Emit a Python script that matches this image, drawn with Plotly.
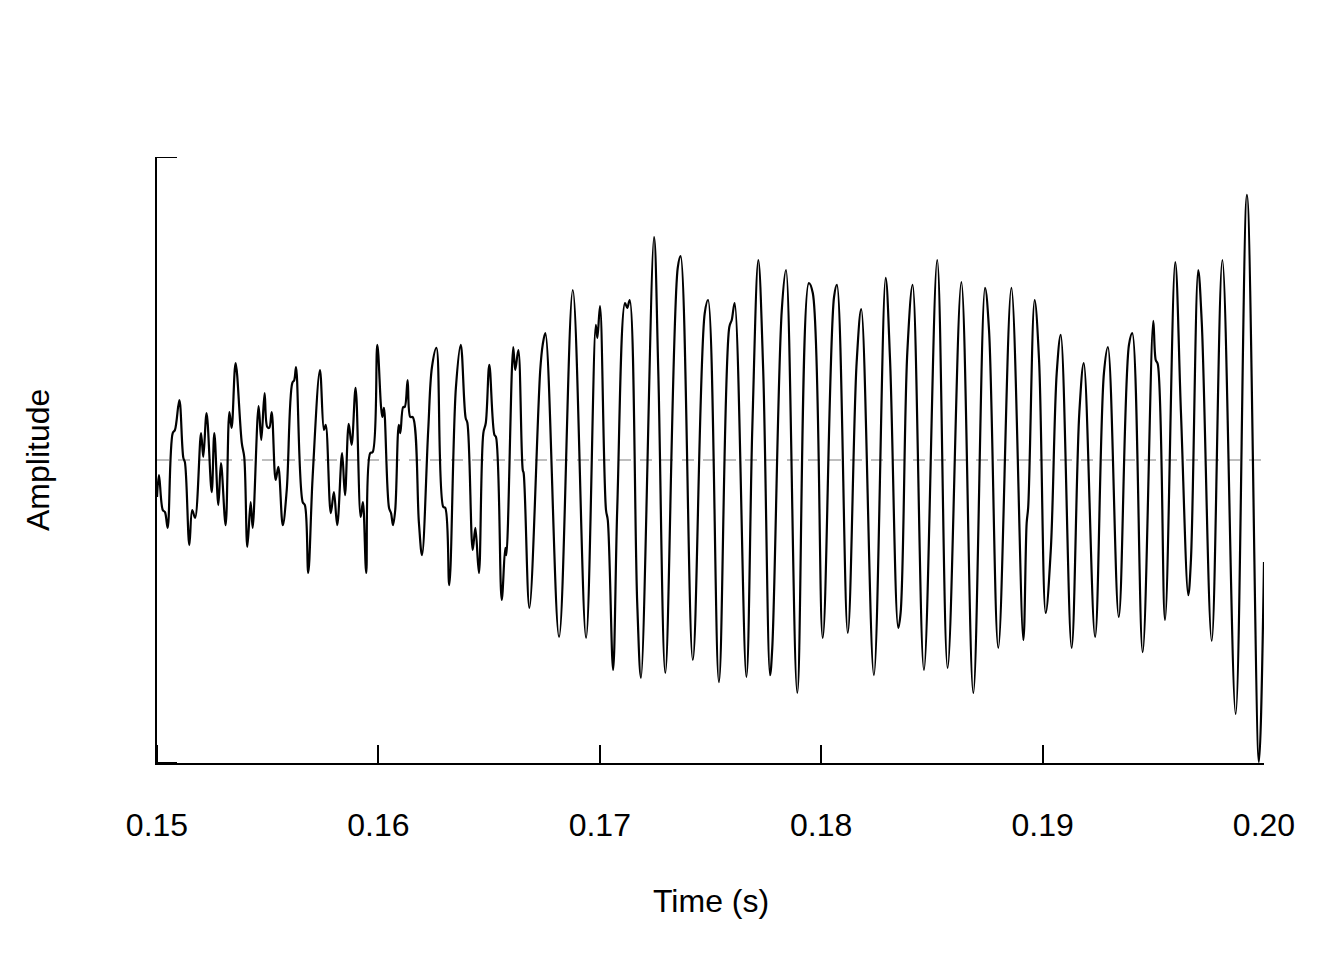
import plotly.graph_objects as go

# Time (s) of the traced extrema / shoulders of the waveform
time_s = [
    0.15000, 0.15009, 0.15026, 0.15036, 0.15048, 0.15071, 0.15081, 0.15101, 0.15119, 0.15126,
    0.15146, 0.15159, 0.15172, 0.15199, 0.15209, 0.15224, 0.15247, 0.15259, 0.15277, 0.15289,
    0.15310, 0.15327, 0.15337, 0.15355, 0.15383, 0.15394, 0.15408, 0.15423, 0.15432, 0.15459,
    0.15471, 0.15486, 0.15498, 0.15507, 0.15518, 0.15536, 0.15548, 0.15568, 0.15586, 0.15611,
    0.15620, 0.15628, 0.15658, 0.15668, 0.15683, 0.15703, 0.15736, 0.15754, 0.15762, 0.15785,
    0.15799, 0.15814, 0.15836, 0.15849, 0.15866, 0.15879, 0.15897, 0.15920, 0.15930, 0.15945,
    0.15963, 0.15974, 0.15995, 0.16012, 0.16018, 0.16025, 0.16048, 0.16057, 0.16066, 0.16076,
    0.16092, 0.16099, 0.16112, 0.16119, 0.16132, 0.16144, 0.16155, 0.16183, 0.16197, 0.16225,
    0.16242, 0.16262, 0.16293, 0.16302, 0.16320, 0.16350, 0.16372, 0.16394, 0.16402, 0.16426,
    0.16438, 0.16454, 0.16474, 0.16485, 0.16501, 0.16524, 0.16531, 0.16557, 0.16573, 0.16578,
    0.16609, 0.16618, 0.16632, 0.16652, 0.16656, 0.16682, 0.16731, 0.16742, 0.16754, 0.16816,
    0.16878, 0.16938, 0.16982, 0.16989, 0.17001, 0.17028, 0.17036, 0.17060, 0.17079, 0.17114,
    0.17124, 0.17135, 0.17169, 0.17186, 0.17245, 0.17264, 0.17296, 0.17352, 0.17365, 0.17420,
    0.17474, 0.17489, 0.17538, 0.17585, 0.17596, 0.17609, 0.17662, 0.17689, 0.17716, 0.17738,
    0.17769, 0.17779, 0.17822, 0.17841, 0.17892, 0.17944, 0.17962, 0.18007, 0.18058, 0.18071,
    0.18120, 0.18160, 0.18181, 0.18238, 0.18291, 0.18311, 0.18348, 0.18359, 0.18389, 0.18413,
    0.18464, 0.18524, 0.18571, 0.18633, 0.18687, 0.18740, 0.18758, 0.18800, 0.18859, 0.18913,
    0.18928, 0.18935, 0.18964, 0.18984, 0.19014, 0.19037, 0.19064, 0.19082, 0.19131, 0.19166,
    0.19186, 0.19237, 0.19277, 0.19295, 0.19344, 0.19390, 0.19405, 0.19452, 0.19500, 0.19511,
    0.19520, 0.19553, 0.19599, 0.19625, 0.19658, 0.19670, 0.19703, 0.19719, 0.19764, 0.19812,
    0.19872, 0.19923, 0.19977, 0.20000,
]

# Amplitude (normalised, axis spans -1 .. 1)
amplitude = [
    -0.122, -0.050, -0.165, -0.172, -0.224, 0.089, 0.099, 0.198, 0.007, -0.007,
    -0.281, -0.165, -0.191, 0.089, 0.010, 0.155, -0.106, 0.089, -0.149, -0.010,
    -0.215, 0.158, 0.106, 0.320, 0.056, 0.010, -0.287, -0.139, -0.224, 0.178,
    0.066, 0.221, 0.109, 0.106, 0.158, -0.066, -0.023, -0.215, -0.099, 0.254,
    0.264, 0.307, -0.139, -0.149, -0.373, -0.056, 0.297, 0.099, 0.116, -0.175,
    -0.106, -0.215, 0.023, -0.116, 0.119, 0.050, 0.238, -0.188, -0.139, -0.373,
    0.023, 0.026, 0.380, 0.175, 0.142, 0.172, -0.158, -0.175, -0.215, -0.165,
    0.116, 0.089, 0.175, 0.175, 0.264, 0.142, 0.142, -0.208, -0.314, 0.099,
    0.307, 0.370, -0.155, -0.158, -0.413, 0.238, 0.380, 0.139, 0.122, -0.297,
    -0.224, -0.373, 0.089, 0.122, 0.314, 0.083, 0.076, -0.462, -0.290, -0.314,
    0.373, 0.297, 0.363, -0.033, -0.043, -0.488, 0.297, 0.380, 0.419, -0.584,
    0.561, -0.587, 0.446, 0.403, 0.508, -0.165, -0.198, -0.693, -0.155, 0.518,
    0.502, 0.528, -0.472, -0.719, 0.736, 0.297, -0.703, 0.634, 0.673, -0.660,
    0.485, 0.528, -0.733, 0.439, 0.462, 0.518, -0.716, 0.109, 0.660, 0.297,
    -0.710, -0.620, 0.495, 0.627, -0.769, 0.584, 0.551, -0.587, 0.538, 0.578,
    -0.571, 0.320, 0.498, -0.710, 0.601, 0.330, -0.554, -0.502, 0.356, 0.578,
    -0.693, 0.660, -0.686, 0.587, -0.769, 0.568, 0.429, -0.620, 0.568, -0.594,
    -0.208, -0.155, 0.528, 0.330, -0.505, -0.297, 0.290, 0.413, -0.620, 0.158,
    0.320, -0.584, 0.287, 0.373, -0.518, 0.380, 0.419, -0.634, 0.459, 0.330,
    0.317, -0.528, 0.653, 0.155, -0.446, -0.330, 0.627, 0.452, -0.597, 0.660,
    -0.838, 0.875, -0.997, -0.337,
]

x_ticks = [0.15, 0.16, 0.17, 0.18, 0.19, 0.20]
x_tick_labels = ["0.15", "0.16", "0.17", "0.18", "0.19", "0.20"]
y_ticks = [-1, 1]

FONT = "Liberation Sans, Arial, Helvetica, sans-serif"

fig = go.Figure()
fig.add_trace(go.Scatter(
    x=time_s, y=amplitude, mode="lines",
    line=dict(color="black", width=2.2, shape="spline", smoothing=1.0),
    hoverinfo="skip", showlegend=False,
))

# dashed zero reference line
fig.add_shape(type="line", xref="x", yref="y", x0=x_ticks[0], x1=x_ticks[-1], y0=0, y1=0,
              line=dict(color="#bebebe", width=2, dash="12px,9px"), layer="below")

# inward y-axis ticks at the axis ends (plotly clips inside ticks at the ends)
for yt in y_ticks:
    fig.add_shape(type="line", xref="paper", yref="y", x0=0, x1=20 / 1107, y0=yt, y1=yt,
                  line=dict(color="black", width=2))
fig.add_shape(type="line", xref="x", yref="paper", x0=x_ticks[0], x1=x_ticks[0],
              y0=0, y1=18 / 606, line=dict(color="black", width=2))

fig.update_layout(
    width=1344, height=960,
    margin=dict(l=149, r=88, t=149, b=205),
    plot_bgcolor="white", paper_bgcolor="white",
    font=dict(family=FONT, size=32, color="black"),
    xaxis=dict(
        range=[x_ticks[0], x_ticks[-1]], tickvals=x_ticks, ticktext=x_tick_labels,
        ticks="inside", ticklen=18, tickwidth=2, tickcolor="black",
        showline=True, linecolor="black", linewidth=2,
        showgrid=False, zeroline=False, ticklabelstandoff=33,
        tickfont=dict(family=FONT, size=32, color="black"),
    ),
    yaxis=dict(
        range=[-1, 1], tickvals=y_ticks, showticklabels=False,
        ticks="", showline=True, linecolor="black", linewidth=2,
        showgrid=False, zeroline=False,
    ),
    annotations=[
        dict(text="Time (s)", xref="paper", yref="paper", x=0.5, y=-0.2277,
             xanchor="center", yanchor="middle", showarrow=False,
             font=dict(family=FONT, size=32, color="black")),
        dict(text="Amplitude", xref="paper", yref="paper", x=-0.1075, y=0.5,
             xanchor="center", yanchor="middle", showarrow=False, textangle=-90,
             font=dict(family=FONT, size=32, color="black")),
    ],
)

fig.write_html("out.html")
